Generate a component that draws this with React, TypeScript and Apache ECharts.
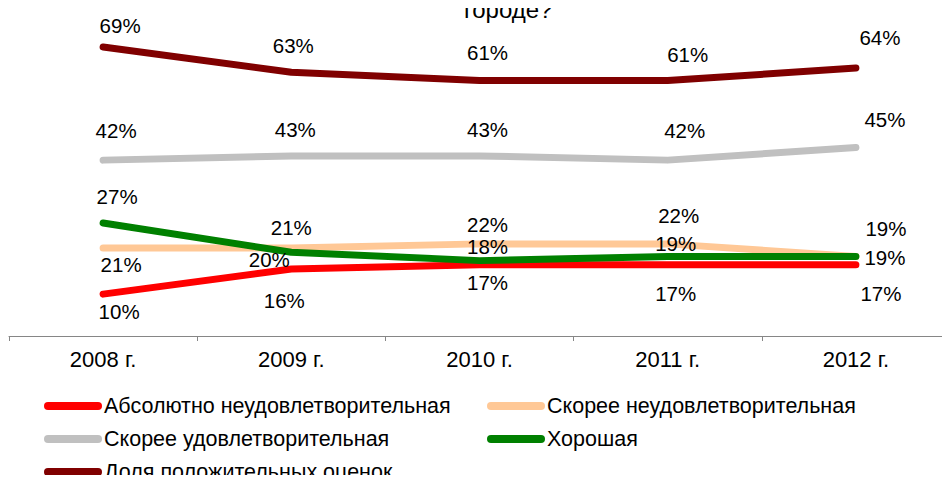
import React, { useEffect, useRef } from "react";
import * as echarts from "echarts";

const categories = ["2008 г.", "2009 г.", "2010 г.", "2011 г.", "2012 г."];
const seriesNames = [
  "Абсолютно неудовлетворительная",
  "Скорее неудовлетворительная",
  "Скорее удовлетворительная",
  "Хорошая",
  "Доля положительных оценок",
];
const absUnsat = [10, 16, 17, 17, 17];
const ratherUnsat = [21, 21, 22, 22, 19];
const ratherSat = [42, 43, 43, 42, 45];
const good = [27, 20, 18, 19, 19];
const positiveShare = [69, 63, 61, 61, 64];
const titleText = "городе?";

const colors = ["#FF0000", "#FFC896", "#C0C0C0", "#008000", "#800000"];
// label offsets [dx, dy] from each point (styling)
const labelOffsets: number[][][] = [
  [[16, 17], [-7, 31], [8, 18], [8, 29], [25, 29]],
  [[18, 16], [0, -21], [8, -19], [11, -28], [30, -28]],
  [[13, -30], [4, -26], [8, -26], [17, -30], [29, -28]],
  [[14, -26], [-22, 7], [8, -14], [8, -13], [29, 1]],
  [[17, -22], [2, -27], [8, -28], [20, -26], [24, -31]],
];
const legendPos = [
  [44, 395],
  [487, 395],
  [44, 428],
  [487, 428],
  [44, 461],
];

const FONT = "Liberation Sans, Arial, sans-serif";

export default function App() {
  const ref = useRef<HTMLDivElement>(null);
  useEffect(() => {
    if (!ref.current) return;
    const chart = echarts.init(ref.current, null, { renderer: "svg" });
    const allData = [absUnsat, ratherUnsat, ratherSat, good, positiveShare];
    const series = allData.map((vals, si) => ({
      name: seriesNames[si],
      type: "line",
      data: vals.map((v, i) => ({
        value: v,
        label: { offset: labelOffsets[si][i] },
      })),
      lineStyle: { color: colors[si], width: 7, cap: "round", join: "round" },
      itemStyle: { color: colors[si] },
      symbol: "circle",
      symbolSize: 0.01,
      showSymbol: true,
      z: 2 + si,
      label: {
        show: true,
        position: "inside",
        formatter: "{c}%",
        color: "#000",
        fontSize: 20.5,
        fontFamily: FONT,
        align: "center",
        verticalAlign: "middle",
      },
      emphasis: { disabled: true },
    }));
    const icon = "path://M4,0 H54 A4,4 0 0 1 54,8 H4 A4,4 0 0 1 4,0 Z";
    const legends = seriesNames.map((n, i) => ({
      data: [n],
      left: legendPos[i][0],
      top: legendPos[i][1],
      padding: 0,
      itemWidth: 58,
      itemHeight: 8,
      icon,
      itemStyle: { color: colors[i], opacity: 1 },
      textStyle: {
        fontSize: 21.5,
        fontFamily: FONT,
        color: "#000",
        padding: [0, 0, 0, -3],
      },
      selectedMode: false,
    }));
    chart.setOption({
      animation: false,
      backgroundColor: "#fff",
      title: {
        text: titleText,
        left: 464,
        top: -3,
        padding: 0,
        textStyle: { fontSize: 24, fontWeight: "normal", color: "#000", fontFamily: FONT },
      },
      legend: legends,
      grid: { left: 9, right: -1, top: 1, bottom: 147, containLabel: false },
      xAxis: {
        type: "category",
        data: categories,
        boundaryGap: true,
        axisLine: { lineStyle: { color: "#868686", width: 1 } },
        axisTick: { show: true, interval: 0, length: 5, lineStyle: { color: "#868686" } },
        axisLabel: { fontSize: 22, fontFamily: FONT, color: "#000", margin: 12, interval: 0 },
      },
      yAxis: {
        type: "value",
        min: 0,
        max: 80,
        show: false,
        splitLine: { show: false },
      },
      series,
    });
    return () => chart.dispose();
  }, []);
  return <div ref={ref} style={{ width: 950, height: 483, margin: -8 }} />;
}
